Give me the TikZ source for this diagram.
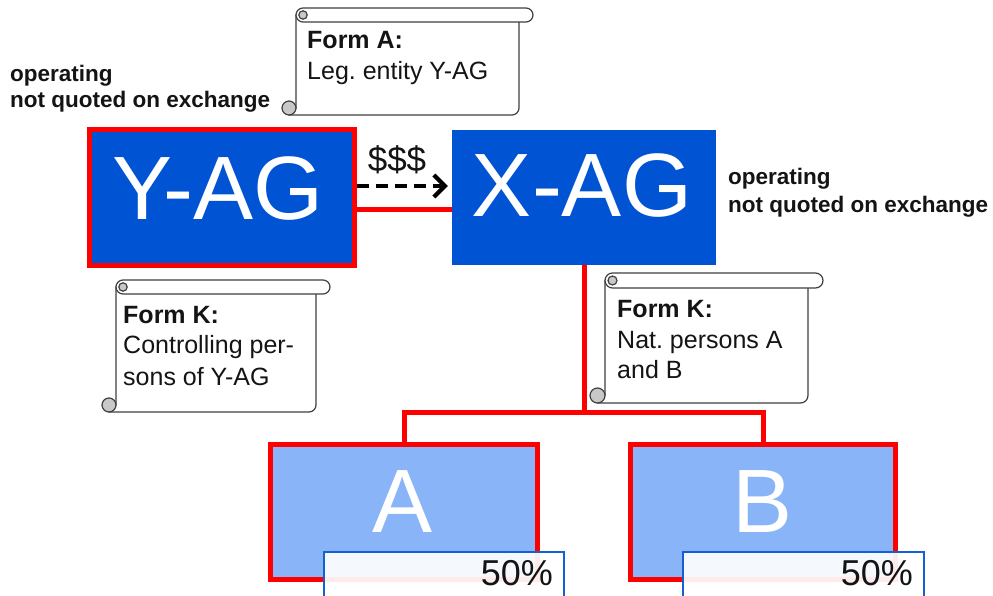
\documentclass[tikz,border=0pt]{standalone}
\usepackage{fontspec}
\setmainfont{Liberation Sans}
\usetikzlibrary{arrows.meta}
\frenchspacing
\definecolor{darkbl}{RGB}{0,84,212}
\definecolor{lightbl}{RGB}{138,180,248}
\definecolor{pctblue}{RGB}{20,96,208}
\definecolor{scrollgray}{RGB}{64,64,64}
\definecolor{curlgray}{RGB}{200,200,200}
\definecolor{txtblack}{RGB}{20,20,20}
\newcommand\myscroll[5]{%
  \pgfmathsetmacro\sr{#5/2}%
  \pgfmathsetmacro\srr{0.6*#5/2}%
  \draw[scrollln, fill=white] ({#1+#5},{#3+\sr}) -- ({#2-#5},{#3+\sr}) -- ({#2-#5},{#4-\sr})
     arc[start angle=0,end angle=-90,radius=\sr pt] -- ({#1+\sr},{#4}) -- ({#1+\sr},{#4-\sr}) -- ({#1+#5},{#4-\sr}) -- cycle;
  \draw[scrollln, fill=white, rounded corners=\sr pt] ({#1+#5},{#3}) rectangle ({#2},{#3+#5});
  \draw[scrollln, fill=curlgray] ({#1+#5+\sr},{#3+\sr}) circle[radius=\srr pt];
  \draw[scrollln, fill=curlgray] ({#1+\sr},{#4-\sr}) circle[radius=\sr pt];
}
\begin{document}
\begin{tikzpicture}[x=1pt,y=-1pt,
  scrollln/.style={draw=scrollgray, line width=1.2pt},
  bluebox/.style={rectangle, fill=darkbl, inner sep=0pt},
  lightbox/.style={rectangle, fill=lightbl, inner sep=0pt},
  redframe/.style={draw=red, line width=5pt},
  redln/.style={draw=red, line width=5pt},
  bigtxt/.style={text=white, font=\fontsize{90}{90}\selectfont, inner sep=0pt, anchor=base},
  scrtxt/.style={anchor=base west, inner sep=0pt, text=txtblack, font=\fontsize{25}{30}\selectfont},
  scrbold/.style={anchor=base west, inner sep=0pt, text=txtblack, font=\fontsize{25}{30}\selectfont\bfseries},
  sidetxt/.style={anchor=base west, inner sep=0pt, text=txtblack, font=\fontsize{22.5}{27}\selectfont\bfseries},
  pctbox/.style={rectangle, draw=pctblue, line width=2pt, fill=white, fill opacity=0.92, draw opacity=1, inner sep=0pt, outer sep=0pt, anchor=north west},
  pcttxt/.style={anchor=base east, inner sep=0pt, text=txtblack, font=\fontsize{36}{36}\selectfont},
  moneyarrow/.style={draw=black, line width=4.2pt, dash pattern=on 12pt off 7pt, -{Straight Barb[length=11pt,width=22pt]}, shorten >=4pt}
]
\useasboundingbox (0,0) rectangle (993,596);
\clip (0,0) rectangle (993,596);
\fill[white] (0,0) rectangle (993,596);

% side texts
\node[sidetxt] (l1) at (10,82) {operating};
\node[sidetxt] (l2) at (10,108) {not quoted on exchange};
\node[sidetxt] (r1) at (728,185) {operating};
\node[sidetxt] (r2) at (728,212) {not quoted on exchange};

% scrolls
\myscroll{282}{533}{8}{115}{14}
\node[scrbold] (fa1) at (307,49) {Form A:};
\node[scrtxt] (fa2) at (307,80) {Leg. entity Y-AG};

\myscroll{102}{330}{280}{412}{14}
\node[scrbold] (fk1) at (123,323) {Form K:};
\node[scrtxt] (fk2) at (123,353) {Controlling per-};
\node[scrtxt] (fk3) at (123,385) {sons of Y-AG};

\myscroll{590}{823}{273}{403}{15}
\node[scrbold] (fn1) at (617,317) {Form K:};
\node[scrtxt] (fn2) at (617,348) {Nat. persons A};
\node[scrtxt] (fn3) at (617,378) {and B};

% main boxes
\node[bluebox, redframe, minimum width=265pt, minimum height=136pt] (yag) at (222,197.5) {};
\node[bluebox, minimum width=264pt, minimum height=135pt] (xag) at (584,197.5) {};
\node[bigtxt] (yagt) at (218,220) {Y-AG};
\node[bigtxt] (xagt) at (582,217) {X-AG};

% connectors between Y-AG and X-AG
\draw[redln] (yag.east |- 0,210) -- (xag.west |- 0,210);
\draw[moneyarrow] (yag.east |- 0,186) -- (xag.west |- 0,186);
\node[anchor=base, inner sep=0pt, text=txtblack, font=\fontsize{35}{35}\selectfont] (dol) at (397,172) {\$\$\$};

% A and B
\node[lightbox, redframe, minimum width=267pt, minimum height=135pt] (na) at (404,512) {};
\node[lightbox, redframe, minimum width=265pt, minimum height=135pt] (nb) at (763,512) {};
\node[bigtxt] (nat) at (403,532) {A};
\node[bigtxt] (nbt) at (763,532) {B};

% tree
\draw[redln] (xag.south) -- (xag.south |- 0,412) coordinate (junc);
\draw[redln] (na.north) |- (junc) -| (nb.north);

% percentage boxes
\node[pctbox, minimum width=240pt, minimum height=60pt] (pa) at (324,552) {};
\node[pctbox, minimum width=241pt, minimum height=60pt] (pb) at (683,552) {};
\node[pcttxt] (pat) at (553,585) {50\%};
\node[pcttxt] (pbt) at (913,585) {50\%};
\end{tikzpicture}
\end{document}
